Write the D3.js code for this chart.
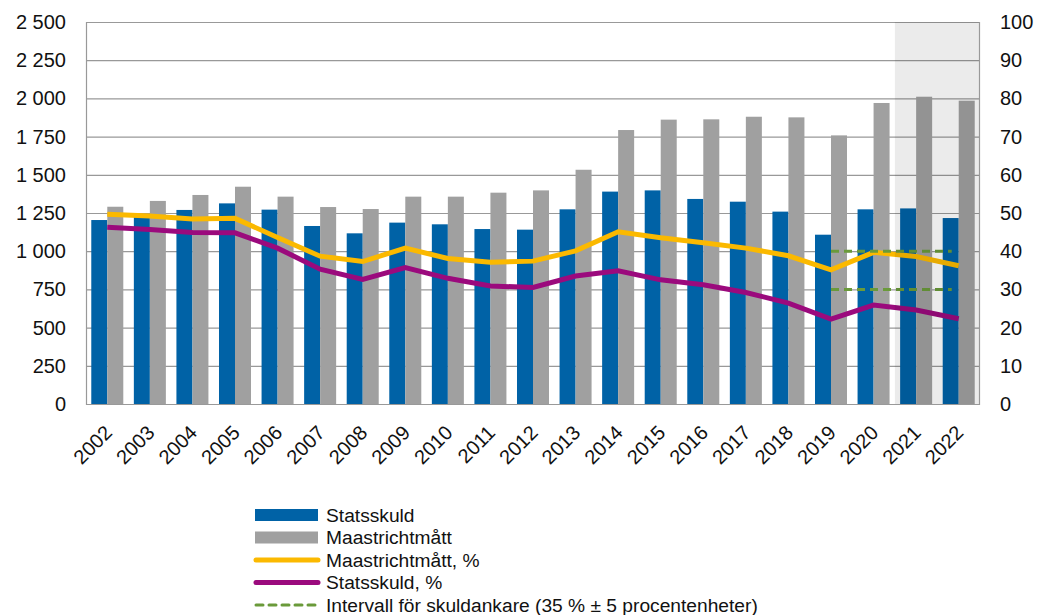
<!DOCTYPE html>
<html>
<head>
<meta charset="utf-8">
<script src="https://cdn.jsdelivr.net/npm/d3@7"></script>
<style>
  body { margin: 0; background: #fff; }
  svg { font-family: "Liberation Sans", Arial, sans-serif; }
</style>
</head>
<body>
<svg width="1037" height="615"></svg>
<script>
// data
var years = ["2002","2003","2004","2005","2006","2007","2008","2009","2010","2011","2012",
             "2013","2014","2015","2016","2017","2018","2019","2020","2021","2022"];
var statsskuld = [1204,1230,1270,1313,1272,1165,1117,1187,1176,1145,1141,
                  1274,1390,1398,1342,1324,1259,1108,1274,1280,1217];
var maastricht = [1291,1329,1368,1422,1357,1289,1276,1357,1357,1383,1398,
                  1533,1793,1861,1863,1880,1876,1758,1970,2011,1985];
var maastrichtPct = [49.7,49.2,48.4,48.6,43.6,38.7,37.3,40.8,38.1,37.1,37.4,
                     40.1,45.1,43.5,42.2,40.8,38.8,35.1,39.7,38.6,36.2];
var statsskuldPct = [46.3,45.7,44.9,44.8,40.8,35.3,32.6,35.7,32.9,30.9,30.5,
                     33.5,34.9,32.5,31.2,29.2,26.4,22.2,25.9,24.6,22.3];
var intervalYears = ["2019","2020","2021","2022"];
var intervalUpper = [40, 40, 40, 40];
var intervalLower = [30, 30, 30, 30];
var forecastYears = ["2021","2022"];
var leftTicks = [0,250,500,750,1000,1250,1500,1750,2000,2250,2500];
var rightTicks = [0,10,20,30,40,50,60,70,80,90,100];

var svg = d3.select("svg");
var pLeft = 86, pRight = 980, pTop = 22, pBottom = 404;

var x = d3.scaleBand().domain(years).range([pLeft, pRight]).padding(0);
var xs = d3.scaleBand().domain(["s","m"]).range([0, x.bandwidth()])
    .paddingInner(0).paddingOuter(0.33);
var yL = d3.scaleLinear().domain([0, 2500]).range([pBottom, pTop]);
var yR = d3.scaleLinear().domain([0, 100]).range([pBottom, pTop]);

var gridColor = "#999";
var fmt = function (d) { return d >= 1000 ? Math.floor(d / 1000) + " " + d3.format("03d")(d % 1000) : d; };

// gridlines
svg.append("g").selectAll("line").data(leftTicks).enter().append("line")
    .attr("x1", pLeft).attr("x2", pRight)
    .attr("y1", function (d) { return yL(d) + 0.5; })
    .attr("y2", function (d) { return yL(d) + 0.5; })
    .attr("stroke", gridColor).attr("stroke-width", 1.2);

// bars
var bars = svg.append("g");
bars.selectAll(".s").data(years).enter().append("rect")
    .attr("x", function (d) { return x(d) + xs("s"); })
    .attr("y", function (d, i) { return yL(statsskuld[i]); })
    .attr("width", xs.bandwidth())
    .attr("height", function (d, i) { return pBottom - yL(statsskuld[i]); })
    .attr("fill", "#0062a6");
bars.selectAll(".m").data(years).enter().append("rect")
    .attr("x", function (d) { return x(d) + xs("m"); })
    .attr("y", function (d, i) { return yL(maastricht[i]); })
    .attr("width", xs.bandwidth())
    .attr("height", function (d, i) { return pBottom - yL(maastricht[i]); })
    .attr("fill", "#a0a0a0");

// lines
var cx = function (d) { return x(d) + x.bandwidth() / 2; };
var line = d3.line().x(function (d) { return cx(d[0]); }).y(function (d) { return yR(d[1]); });

svg.append("path").datum(d3.zip(years, maastrichtPct))
    .attr("d", line).attr("fill", "none").attr("stroke", "#fbb900").attr("stroke-width", 5);
svg.append("path").datum(d3.zip(years, statsskuldPct))
    .attr("d", line).attr("fill", "none").attr("stroke", "#9b0a7d").attr("stroke-width", 5);

// interval lines stop a little short of the 2022 centre, as in the original
var lineShort = d3.line()
    .x(function (d, i, arr) { return cx(d[0]) - (i === arr.length - 1 ? 7 : 0); })
    .y(function (d) { return yR(d[1]); });
[intervalUpper, intervalLower].forEach(function (arr) {
  svg.append("path").datum(d3.zip(intervalYears, arr))
      .attr("d", lineShort).attr("fill", "none").attr("stroke", "#6a9a3a")
      .attr("stroke-width", 3).attr("stroke-dasharray", "8,5");
});

// forecast shading
svg.append("rect")
    .attr("x", x(forecastYears[0])).attr("y", pTop)
    .attr("width", pRight - x(forecastYears[0])).attr("height", pBottom - pTop)
    .attr("fill", "#000").attr("opacity", 0.08);

// axis frame
svg.append("line").attr("x1", pLeft + 0.5).attr("x2", pLeft + 0.5).attr("y1", pTop).attr("y2", pBottom + 1)
    .attr("stroke", gridColor).attr("stroke-width", 1.2);
svg.append("line").attr("x1", pRight - 0.5).attr("x2", pRight - 0.5).attr("y1", pTop).attr("y2", pBottom + 1)
    .attr("stroke", gridColor).attr("stroke-width", 1.2);

// tick labels
svg.append("g").selectAll("text").data(leftTicks).enter().append("text")
    .attr("x", 66).attr("y", function (d) { return yL(d); }).attr("dy", "0.35em")
    .attr("text-anchor", "end").attr("font-size", 20).attr("fill", "#111")
    .text(fmt);
svg.append("g").selectAll("text").data(rightTicks).enter().append("text")
    .attr("x", 1000).attr("y", function (d) { return yR(d); }).attr("dy", "0.35em")
    .attr("text-anchor", "start").attr("font-size", 20).attr("fill", "#111")
    .text(function (d) { return d; });
svg.append("g").selectAll("text").data(years).enter().append("text")
    .attr("transform", function (d) { return "translate(" + (cx(d) + 6) + ",434) rotate(-45)"; })
    .attr("text-anchor", "end").attr("font-size", 20).attr("fill", "#111")
    .text(function (d) { return d; });

// legend
var legend = [
  { name: "Statsskuld", type: "bar", color: "#0062a6" },
  { name: "Maastrichtmått", type: "bar", color: "#a0a0a0" },
  { name: "Maastrichtmått, %", type: "line", color: "#fbb900" },
  { name: "Statsskuld, %", type: "line", color: "#9b0a7d" },
  { name: "Intervall för skuldankare (35 % ± 5 procentenheter)", type: "dash", color: "#6a9a3a" }
];
var lg = svg.append("g").selectAll("g").data(legend).enter().append("g")
    .attr("transform", function (d, i) { return "translate(0," + (515 + i * 22.5) + ")"; });
lg.each(function (d) {
  var g = d3.select(this);
  if (d.type === "bar") {
    g.append("rect").attr("x", 255).attr("y", -6).attr("width", 63).attr("height", 12).attr("fill", d.color);
  } else {
    g.append("line").attr("x1", 256).attr("x2", 318).attr("y1", 0).attr("y2", 0)
        .attr("stroke", d.color).attr("stroke-linecap", "round")
        .attr("stroke-width", d.type === "dash" ? 3 : 5)
        .attr("stroke-dasharray", d.type === "dash" ? "7,6" : null);
  }
  g.append("text").attr("x", 326).attr("dy", "0.35em").attr("font-size", 19.2).attr("fill", "#111").text(d.name);
});
</script>
</body>
</html>
